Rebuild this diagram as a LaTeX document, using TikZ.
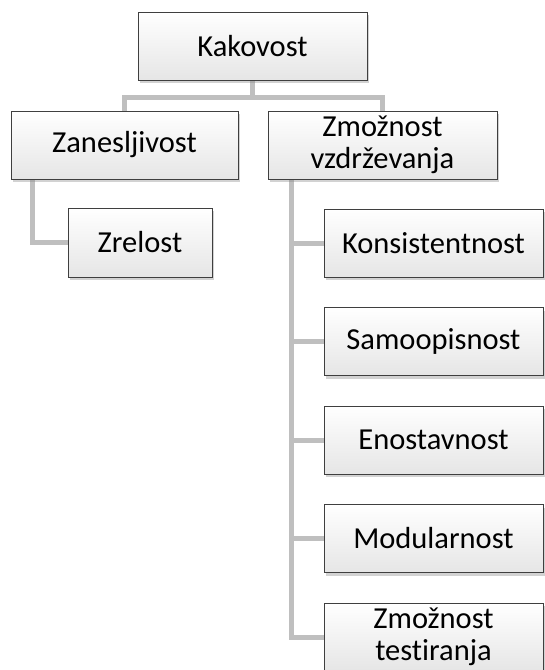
\documentclass[tikz,border=0pt]{standalone}
\usepackage{fontspec}
\setmainfont[Ligatures={NoCommon}]{Carlito}
\usetikzlibrary{shadows,backgrounds}
\definecolor{conn}{HTML}{BFBFBF}
\definecolor{edge}{HTML}{3F3F3F}
\tikzset{
  box/.style={draw=edge, line width=0.8pt, top color=white, bottom color=black!10,
    drop shadow={opacity=0.35, shadow xshift=2pt, shadow yshift=-3pt},
    inner sep=2pt, align=center, font=\fontsize{30.5}{32}\selectfont,
    minimum height=68pt},
  link/.style={draw=conn, line width=5pt}
}
\begin{document}
\begin{tikzpicture}[x=1pt,y=-1pt]
\useasboundingbox (0,0) rectangle (545,670);
\node[box, minimum width=229pt] (kak) at (252.5,46) {Kakovost};
\node[box, minimum width=227pt] (zan) at (124.5,145) {Zanesljivost};
\node[box, minimum width=229pt] (zmo) at (382.5,145) {Zmožnost\\vzdrževanja};
\node[box, minimum width=144pt, minimum height=69pt] (zre) at (140,242.5) {Zrelost};
\node[box, minimum width=219pt] (kon) at (433.5,243) {Konsistentnost};
\node[box, minimum width=219pt] (sam) at (433.5,341.5) {Samoopisnost};
\node[box, minimum width=219pt] (eno) at (433.5,440) {Enostavnost};
\node[box, minimum width=219pt] (mod) at (433.5,538.5) {Modularnost};
\node[box, minimum width=219pt] (zte) at (433.5,637) {Zmožnost\\testiranja};
\begin{scope}[on background layer]
\fill[white] (0,0) rectangle (545,670);
\draw[link] (kak.south) -- ++(0,17) -| (zan.north);
\draw[link] (kak.south) -- ++(0,17) -| (zmo.north);
\draw[link] ([xshift=22pt]zan.south west) |- (zre.west);
\draw[link] ([xshift=24pt]zmo.south west) |- (kon.west);
\draw[link] ([xshift=24pt]zmo.south west) |- (sam.west);
\draw[link] ([xshift=24pt]zmo.south west) |- (eno.west);
\draw[link] ([xshift=24pt]zmo.south west) |- (mod.west);
\draw[link] ([xshift=24pt]zmo.south west) |- (zte.west);
\end{scope}
\end{tikzpicture}
\end{document}
